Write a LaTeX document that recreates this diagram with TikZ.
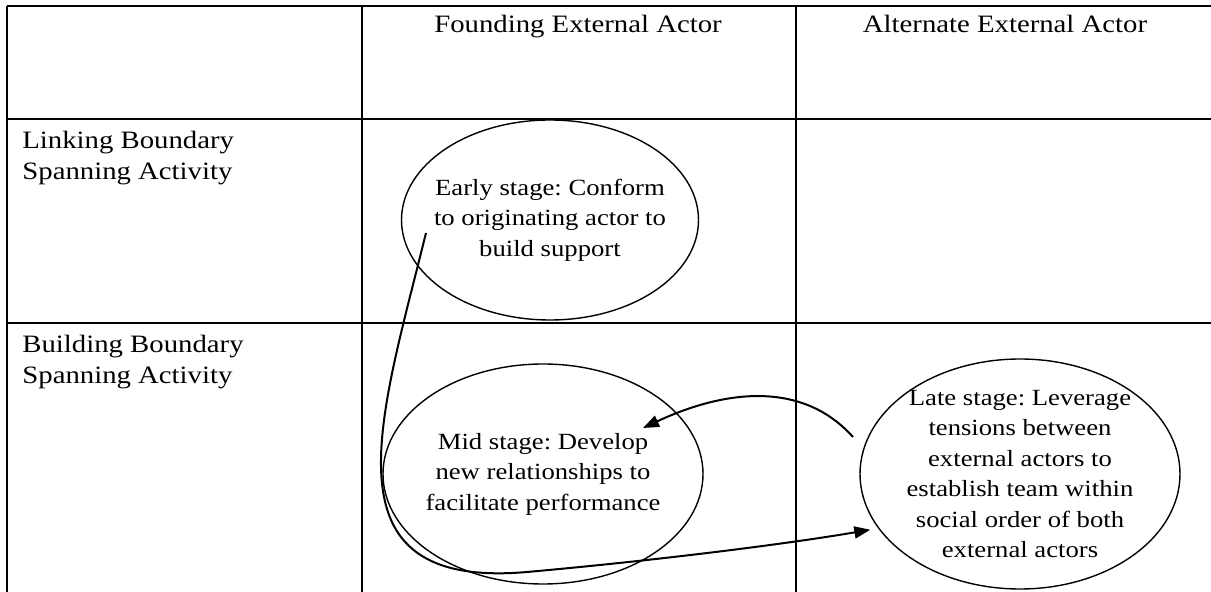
\documentclass[tikz,border=0pt]{standalone}
\usepackage{fontspec}
\setmainfont[FakeStretch=1.15]{Liberation Serif}
\usetikzlibrary{shapes.geometric,arrows.meta}
\frenchspacing

\begin{document}
\begin{tikzpicture}[x=0.5pt,y=-0.5pt,font=\fontsize{12.5}{15.5}\selectfont]
    \tikzstyle{rule}=[line width=1pt]
    \tikzstyle{stage}=[ellipse,draw,line width=0.7pt,inner xsep=-15pt,inner ysep=-8pt,align=center,
        font=\fontsize{11.6}{15.25}\selectfont]
    \tikzstyle{rowhead}=[anchor=north west,inner sep=0pt,align=left]
    \tikzstyle{colhead}=[anchor=base,inner sep=0pt]
    \tikzstyle{flow}=[line width=1pt,-{Triangle[length=8pt,width=6pt]}]

    \useasboundingbox (0,0) rectangle (1211,592);

    % Draw the table rules
    \foreach \y in {6,119,323}
        \draw[rule] (7,\y) -- (1211,\y);
    \foreach \x in {7,362,796}
        \draw[rule] (\x,6) -- (\x,592);

    % Column and row headings
    \node[colhead] (founding) at (578,33) {Founding External Actor};
    \node[colhead] (alternate) at (1005,33) {Alternate External Actor};
    \node[rowhead] (linking) at (22,131) {Linking Boundary\\Spanning Activity};
    \node[rowhead] (building) at (22,335) {Building Boundary\\Spanning Activity};

    % Draw the stages
    \node[stage,minimum width=148.5pt,minimum height=100pt] (early) at (550,220)
        {Early stage: Conform\\to originating actor to\\build support};
    \node[stage,minimum width=160pt,minimum height=110pt] (mid) at (543,474)
        {Mid stage: Develop\\new relationships to\\facilitate performance};
    \node[stage,minimum width=160pt,minimum height=115pt] (late) at (1020,474)
        {Late stage: Leverage\\tensions between\\external actors to\\establish team within\\social order of both\\external actors};

    % Free ends of the connectors
    \coordinate (earlyTail) at (426,233);
    \coordinate (lateTail) at (853,437);
    \coordinate (midHead) at (643,428);

    % Connect the stages
    \draw[flow,shorten >=4pt] (earlyTail) .. controls (380,420) and (320,590) .. (527,572)
        .. controls (650,561) and (780,545) .. (late.201);
    \draw[flow] (lateTail) .. controls (800,378) and (720,392) .. (midHead);
\end{tikzpicture}
\end{document}
